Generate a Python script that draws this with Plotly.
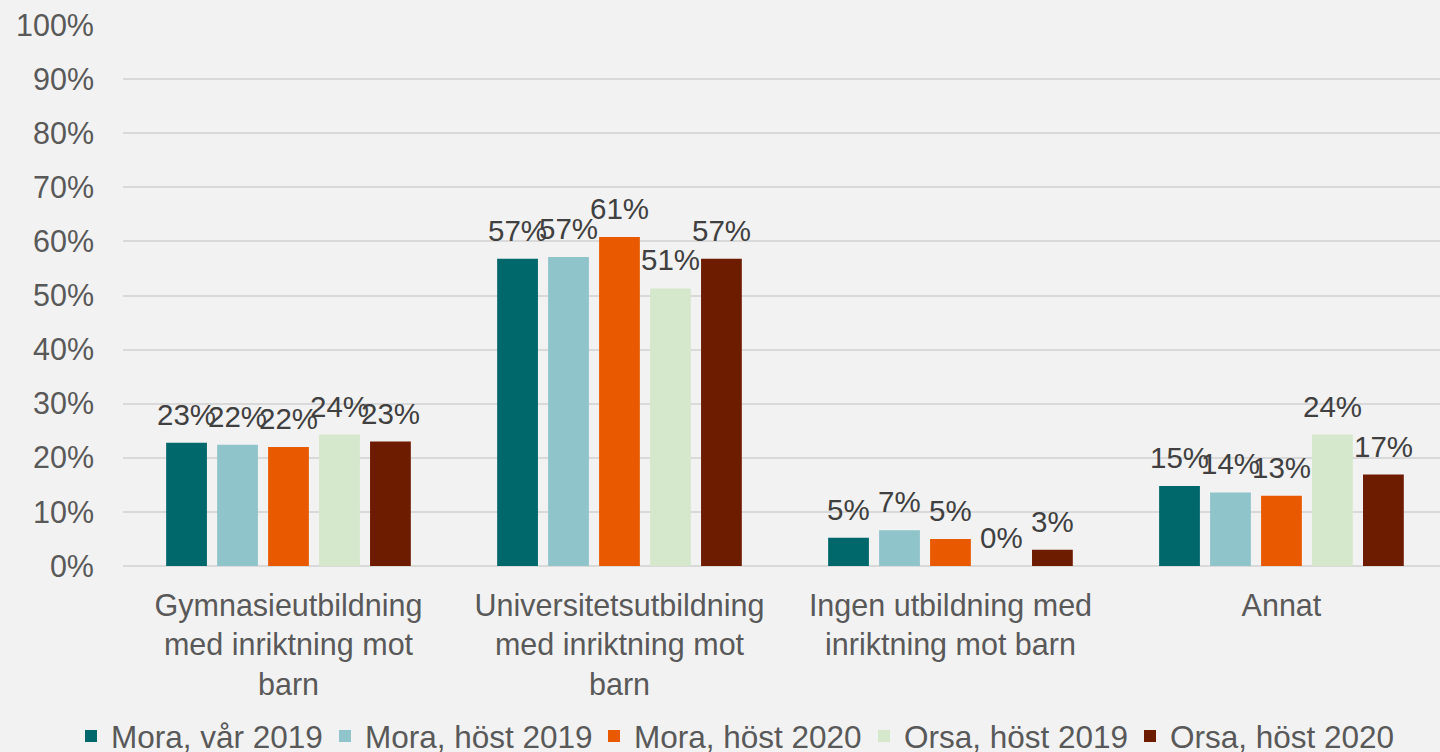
import plotly.graph_objects as go

categories = [
    "Gymnasieutbildning<br>med inriktning mot<br>barn",
    "Universitetsutbildning<br>med inriktning mot<br>barn",
    "Ingen utbildning med<br>inriktning mot barn",
    "Annat",
]
series_names = ["Mora, vår 2019", "Mora, höst 2019", "Mora, höst 2020",
                "Orsa, höst 2019", "Orsa, höst 2020"]
mora_var_2019 = [0.228, 0.568, 0.052, 0.148]
mora_host_2019 = [0.224, 0.571, 0.066, 0.136]
mora_host_2020 = [0.220, 0.608, 0.050, 0.130]
orsa_host_2019 = [0.243, 0.513, 0.000, 0.243]
orsa_host_2020 = [0.230, 0.568, 0.030, 0.169]
series_values = [mora_var_2019, mora_host_2019, mora_host_2020,
                 orsa_host_2019, orsa_host_2020]
colors = ["#00676B", "#8EC4CA", "#E95A00", "#D5E8CC", "#6E1C00"]
y_ticks = [i / 10 for i in range(11)]
y_tick_labels = [f"{i * 10}%" for i in range(11)]

FONT = "Liberation Sans, Arial, sans-serif"

# layout constants
W, H = 1440, 752
ML, MR, MT, MB = 123, 0, 25, 186
X_RANGE = [-0.5, 3.479]
BARGAP, BARGROUPGAP = 0.23, 0.2
legend_text_px = [111, 365, 634, 904, 1170]

cat_px = (W - ML - MR) / (X_RANGE[1] - X_RANGE[0])
slot_px = cat_px * (1 - BARGAP) / len(series_names)

fig = go.Figure()
for i, (name, vals, col) in enumerate(zip(series_names, series_values, colors)):
    lg = "legend" if i == 0 else f"legend{i + 1}"
    fig.add_trace(go.Bar(
        x=categories, y=vals, name=name,
        marker=dict(color=col, line=dict(width=0)),
        legend=lg, hoverinfo="skip",
    ))
    for cat, v in zip(categories, vals):
        fig.add_annotation(
            x=cat, y=v, text=f"{round(v * 100):.0f}%", showarrow=False,
            xanchor="center", yanchor="bottom",
            xshift=(i - (len(series_names) - 1) / 2) * slot_px,
            yshift=10,
            font=dict(family=FONT, size=29.5, color="#404040"),
        )

legends = {}
for i in range(len(series_names)):
    key = "legend" if i == 0 else f"legend{i + 1}"
    legends[key] = dict(
        orientation="h", xref="container", xanchor="left",
        x=(legend_text_px[i] - 40) / W,
        yref="container", yanchor="middle", y=16 / H,
        font=dict(family=FONT, size=31.5, color="#595959"),
        bgcolor="rgba(0,0,0,0)", borderwidth=0,
    )

fig.update_layout(
    width=W, height=H,
    paper_bgcolor="#F2F2F2", plot_bgcolor="#F2F2F2",
    barmode="group", bargap=BARGAP, bargroupgap=BARGROUPGAP,
    margin=dict(l=ML, r=MR, t=MT, b=MB),
    font=dict(family=FONT, size=30, color="#595959"),
    showlegend=True,
    xaxis=dict(range=X_RANGE, showgrid=False, showline=False,
               ticks="", tickfont=dict(size=30.5, color="#595959"),
               ticklabelstandoff=18, fixedrange=True),
    yaxis=dict(range=[0, 1], tickvals=y_ticks, ticktext=y_tick_labels,
               showgrid=True, gridcolor="#D9D9D9", gridwidth=1.5,
               zeroline=True, zerolinecolor="#D9D9D9", zerolinewidth=1.5,
               showline=False, ticks="", ticklabelstandoff=28,
               tickfont=dict(size=30.5, color="#595959"), fixedrange=True),
    **legends,
)

fig.write_html("out.html",
               config={"displayModeBar": False},
               post_script="document.body.style.margin='0';"
                           "document.body.style.overflow='hidden';")
